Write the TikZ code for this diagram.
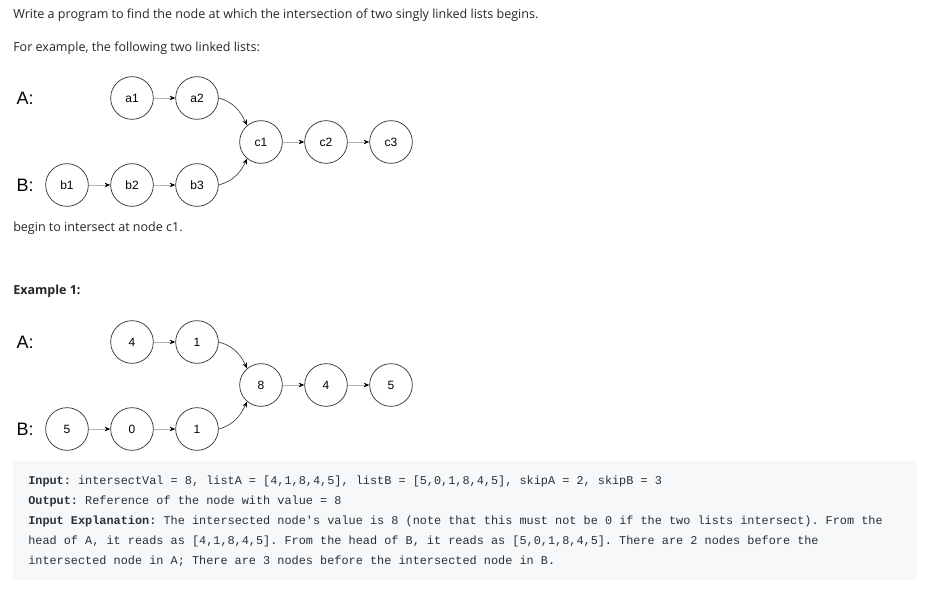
\documentclass[tikz,border=0pt]{standalone}
\usepackage{fontspec}
\setmainfont{Open Sans}
\setmonofont{Liberation Mono}
\newfontfamily\nodefont{Liberation Sans}
\usetikzlibrary{arrows.meta,positioning}
\definecolor{txtcolor}{RGB}{38,38,38}
\definecolor{codebg}{RGB}{247,248,250}
\definecolor{codetxt}{RGB}{38,50,56}
\tikzset{
  listnd/.style={circle, draw=black!80, line width=0.55pt, minimum size=32pt,
    inner sep=0pt, font=\nodefont\fontsize{9}{9}\selectfont},
  nextln/.style={-{Stealth[length=1.5mm,width=1.2mm,color=black]}, line width=0.5pt, gray!60},
  joinln/.style={-{Stealth[length=1.5mm,width=1.2mm,color=black]}, line width=0.5pt, black!75},
  headlbl/.style={anchor=west, font=\nodefont\fontsize{13.5}{13.5}\selectfont},
  bodytxt/.style={anchor=base west, inner sep=0pt, text=txtcolor, font=\fontsize{9.4}{11}\selectfont},
  codeln/.style={anchor=base west, inner sep=0pt, text=codetxt, font=\ttfamily\fontsize{8.9}{10}\selectfont},
}

\begin{document}
\begin{tikzpicture}[x=0.75pt, y=0.75pt]
    \useasboundingbox (0,0) rectangle (930,-595);
    % problem text
    \node[bodytxt] (intro) at (13,-19)
      {Write a program to find the node at which the intersection of two singly linked lists begins.};
    \node[bodytxt] (forex) at (13,-52) {For example, the following two linked lists:};
    % first pair of lists
    \node[headlbl] (hA) at (12,-98) {A:};
    \node[headlbl] (hB) at (12,-185) {B:};
    \foreach \nm/\px/\py in {a1/132/98, a2/197/98, c1/261/142, c2/326/142, c3/391/142,
                             b1/67/185, b2/132/185, b3/197/185}{
      \node[listnd] (\nm) at (\px,-\py) {\nm};
    }
    \foreach \s/\t in {a1/a2, c1/c2, c2/c3, b1/b2, b2/b3}
      \draw[nextln] (\s) -- (\t);
    \draw[joinln] (a2.east) to[out=-15,in=115] (c1.130);
    \draw[joinln] (b3.east) to[out=15,in=-115] (c1.-130);
    \node[bodytxt] (begin) at (13,-231) {begin to intersect at node c1.};
    % example 1
    \node[bodytxt, font=\bfseries\fontsize{9.4}{11}\selectfont] (ex1) at (13,-294) {Example 1:};
    \node[headlbl] (eA) at (12,-342) {A:};
    \node[headlbl] (eB) at (12,-429) {B:};
    \foreach \nm/\px/\py/\lab in {ea1/132/342/4, ea2/197/342/1, ec1/261/385/8, ec2/326/385/4,
                                  ec3/391/385/5, eb1/67/429/5, eb2/132/429/0, eb3/197/429/1}{
      \node[listnd] (\nm) at (\px,-\py) {\lab};
    }
    \foreach \s/\t in {ea1/ea2, ec1/ec2, ec2/ec3, eb1/eb2, eb2/eb3}
      \draw[nextln] (\s) -- (\t);
    \draw[joinln] (ea2.east) to[out=-15,in=115] (ec1.130);
    \draw[joinln] (eb3.east) to[out=15,in=-115] (ec1.-130);
    % input / output block
    \fill[codebg, rounded corners=2pt] (13,-461) rectangle (917,-580);
    \node[codeln] (inp) at (28,-484)
      {\textbf{Input:} intersectVal = 8, listA = [4,1,8,4,5], listB = [5,0,1,8,4,5], skipA = 2, skipB = 3};
    \node[codeln] (outp) at (28,-504) {\textbf{Output:} Reference of the node with value = 8};
    \node[codeln] (expl1) at (28,-524)
      {\textbf{Input Explanation:} The intersected node's value is 8 (note that this must not be 0 if the two lists intersect). From the};
    \node[codeln] (expl2) at (28,-544)
      {head of A, it reads as [4,1,8,4,5]. From the head of B, it reads as [5,0,1,8,4,5]. There are 2 nodes before the};
    \node[codeln] (expl3) at (28,-564)
      {intersected node in A; There are 3 nodes before the intersected node in B.};
\end{tikzpicture}
\end{document}
